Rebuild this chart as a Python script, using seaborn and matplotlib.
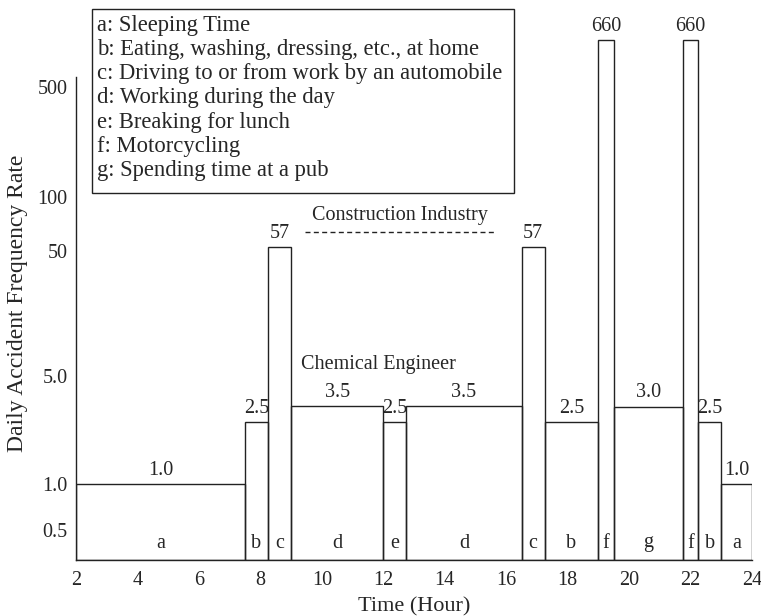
import numpy as np
import matplotlib
matplotlib.use("Agg")
import matplotlib.pyplot as plt
from matplotlib.patches import Rectangle
import seaborn as sns

# time segments (hours) and accident rates
edges = [2, 7.5, 8.25, 9, 12, 12.75, 16.5, 17.25, 19, 19.5, 21.75, 22.25, 23, 24]
rates = [1.0, 2.5, 57, 3.5, 2.5, 3.5, 57, 2.5, 660, 3.0, 660, 2.5, 1.0]
acts = ['a', 'b', 'c', 'd', 'e', 'd', 'c', 'b', 'f', 'g', 'f', 'b', 'a']
rate_labels = ['1.0', '2.5', '57', '3.5', '2.5', '3.5', '57', '2.5', '660', '3.0', '660', '2.5', '1.0']
legend_lines = ['a: Sleeping Time',
                'b: Eating, washing, dressing, etc., at home',
                'c: Driving to or from work by an automobile',
                'd: Working during the day',
                'e: Breaking for lunch',
                'f: Motorcycling',
                'g: Spending time at a pub']
yticks = [0.5, 1.0, 5.0, 50, 100, 500]
ytick_labels = ['0.5', '1.0', '5.0', '50', '100', '500']
xticks = [2, 4, 6, 8, 10, 12, 14, 16, 18, 20, 22, 24]

# the original uses a hand-drawn, non-uniform rate axis
scale_vals = [0, 0.5, 1.0, 2.5, 3.0, 3.5, 5.0, 50, 57, 100, 500, 660, 1000]
scale_pos = [0, 30, 76, 138, 153.5, 154, 184, 309, 313, 363, 473, 520, 600]

def fwd(v):
    return np.interp(v, scale_vals, scale_pos)

def inv(p):
    return np.interp(p, scale_pos, scale_vals)

sns.set_style('white')
plt.rcParams['font.family'] = ['Liberation Serif', 'DejaVu Serif']
plt.rcParams['font.size'] = 14.5

W, H = 761, 616
fig = plt.figure(figsize=(W / 100, H / 100), dpi=100)
ax = fig.add_axes([76 / W, 56 / H, 676 / W, 530 / H])

mids = [(edges[i] + edges[i + 1]) / 2 for i in range(len(rates))]
sns.histplot(x=mids, weights=rates, bins=edges, fill=False, element='bars',
             color='#222222', linewidth=1.0, ax=ax)

ax.set_yscale('function', functions=(fwd, inv))
ax.set_xlim(2, 24)
ax.set_ylim(0, inv(530))
ax.set_yticks(yticks)
ax.set_yticklabels(ytick_labels)
ax.yaxis.set_minor_locator(matplotlib.ticker.NullLocator())
ax.set_xticks(xticks)
ax.tick_params(length=0, labelsize=14.5)
ax.tick_params(axis='y', pad=6)
ax.tick_params(axis='x', pad=8)

for s in ['top', 'right']:
    ax.spines[s].set_visible(False)
for s in ['left', 'bottom']:
    ax.spines[s].set_color('#222222')
    ax.spines[s].set_linewidth(1.0)
ax.spines['left'].set_bounds(0, inv(483))

ax.set_xlabel('Time (Hour)', fontsize=16)
ax.set_ylabel('Daily Accident Frequency Rate', fontsize=17)
ax.xaxis.set_label_coords(0.5, -0.07)
ax.yaxis.set_label_coords(-0.071, 0.485)

# value labels above bars, activity letters inside bars
for m, v, lab, a in zip(mids, rates, rate_labels, acts):
    ax.annotate(lab, (m, v), xytext=(0, 3), textcoords='offset points',
                ha='center', va='bottom', fontsize=14.5)
    ax.annotate(a, (m, 0), xytext=(0, 9), textcoords='offset points',
                ha='center', va='baseline', fontsize=14.5)

ax.plot([9.45, 15.64], [70, 70], ls=(0, (3.6, 2.4)), color='#222222', lw=1.0)
ax.text(12.55, 84, 'Construction Industry', ha='center', va='center', fontsize=14.5)
ax.text(11.83, 9.3, 'Chemical Engineer', ha='center', va='center', fontsize=14.5)

# legend box
fig.patches.append(Rectangle((92 / W, 1 - 193 / H), (514 - 92) / W, (193 - 9) / H,
                             transform=fig.transFigure, fill=False,
                             edgecolor='#222222', lw=1.0))
for i, line in enumerate(legend_lines):
    fig.text(97 / W, 1 - (25 + i * 24.3) / H, line, ha='left', va='center', fontsize=16.3)

fig.savefig('out.png', dpi=100)
